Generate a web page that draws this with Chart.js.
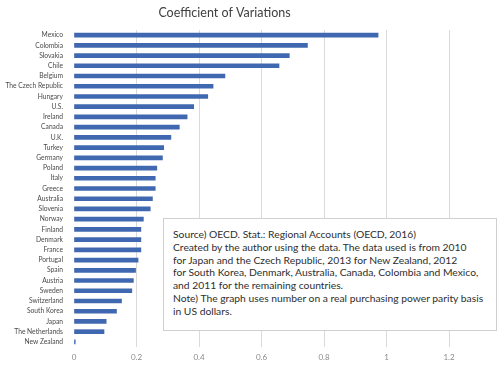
<!DOCTYPE html>
<html>
<head>
<meta charset="utf-8">
<script src="https://cdn.jsdelivr.net/npm/chart.js@4"></script>
<style>
  html, body { margin: 0; padding: 0; background: #fff; }
  #wrap { position: relative; width: 500px; height: 365px; }
  #note {
    position: absolute; left: 163px; top: 218px; width: 332px; height: 111px;
    background: #fff; border: 1px solid #cfcfcf; box-sizing: content-box;
    font-family: Lato, "Noto Sans", sans-serif; font-size: 10.3px; line-height: 12.8px;
    color: #2e2e2e; padding: 0; white-space: nowrap;
  }
  #note div.inner { position: absolute; left: 9px; top: 9px; }
</style>
</head>
<body>
<div id="wrap">
  <canvas id="c" width="500" height="365"></canvas>
  <div id="note"><div class="inner">Source) OECD. Stat.: Regional Accounts (OECD, 2016)<br>Created by the author using the data. The data used is from 2010<br>for Japan and the Czech Republic, 2013 for New Zealand, 2012<br>for South Korea, Denmark, Australia, Canada, Colombia and Mexico,<br>and 2011 for the remaining countries.<br>Note) The graph uses number on a real purchasing power parity basis<br>in US dollars.</div></div>
</div>
<script>
const titleText = "Coefficient of Variations";
const countries = ["Mexico","Colombia","Slovakia","Chile","Belgium","The Czech Republic","Hungary","U.S.","Ireland","Canada","U.K.","Turkey","Germany","Poland","Italy","Greece","Australia","Slovenia","Norway","Finland","Denmark","France","Portugal","Spain","Austria","Sweden","Switzerland","South Korea","Japan","The Netherlands","New Zealand"];
const cvValues = [0.973,0.747,0.689,0.656,0.483,0.445,0.428,0.383,0.362,0.337,0.310,0.287,0.283,0.265,0.260,0.260,0.251,0.244,0.222,0.214,0.214,0.214,0.205,0.197,0.190,0.185,0.152,0.136,0.103,0.096,0.004];
const xTicks = [0,0.2,0.4,0.6,0.8,1,1.2];

new Chart(document.getElementById('c'), {
  type: 'bar',
  data: {
    labels: countries,
    datasets: [{ data: cvValues, backgroundColor: '#4068b0', barThickness: 4 }]
  },
  options: {
    indexAxis: 'y',
    responsive: false,
    animation: false,
    layout: { padding: { left: 0, right: 51, top: 0, bottom: 0 } },
    plugins: {
      legend: { display: false },
      tooltip: { enabled: false },
      title: {
        display: true, text: titleText, color: '#404040',
        font: { family: 'Lato, "Noto Sans", sans-serif', size: 12.5, weight: 'normal' },
        padding: { top: 5, bottom: 10 }
      }
    },
    scales: {
      x: {
        min: 0, max: 1.2,
        afterBuildTicks: s => { s.ticks = xTicks.map(v => ({ value: v })); },
        afterFit: s => { s.height = 18; },
        grid: {
          color: c => (c.tick && c.tick.value === 0) ? 'rgba(0,0,0,0)' : '#dadada',
          drawTicks: false, lineWidth: 1
        },
        border: { display: false },
        ticks: {
          color: '#8a8a8a', padding: 6,
          font: { family: 'Lato, "Noto Sans", sans-serif', size: 8 },
          callback: v => String(v)
        }
      },
      y: {
        afterFit: s => { s.width = 74; },
        grid: { display: false, drawTicks: false },
        border: { display: false },
        ticks: {
          color: '#4a4a4a', padding: 11, autoSkip: false,
          font: { family: 'Lato, "Noto Sans", sans-serif', size: 6.7 }
        }
      }
    }
  }
});
</script>
</body>
</html>
